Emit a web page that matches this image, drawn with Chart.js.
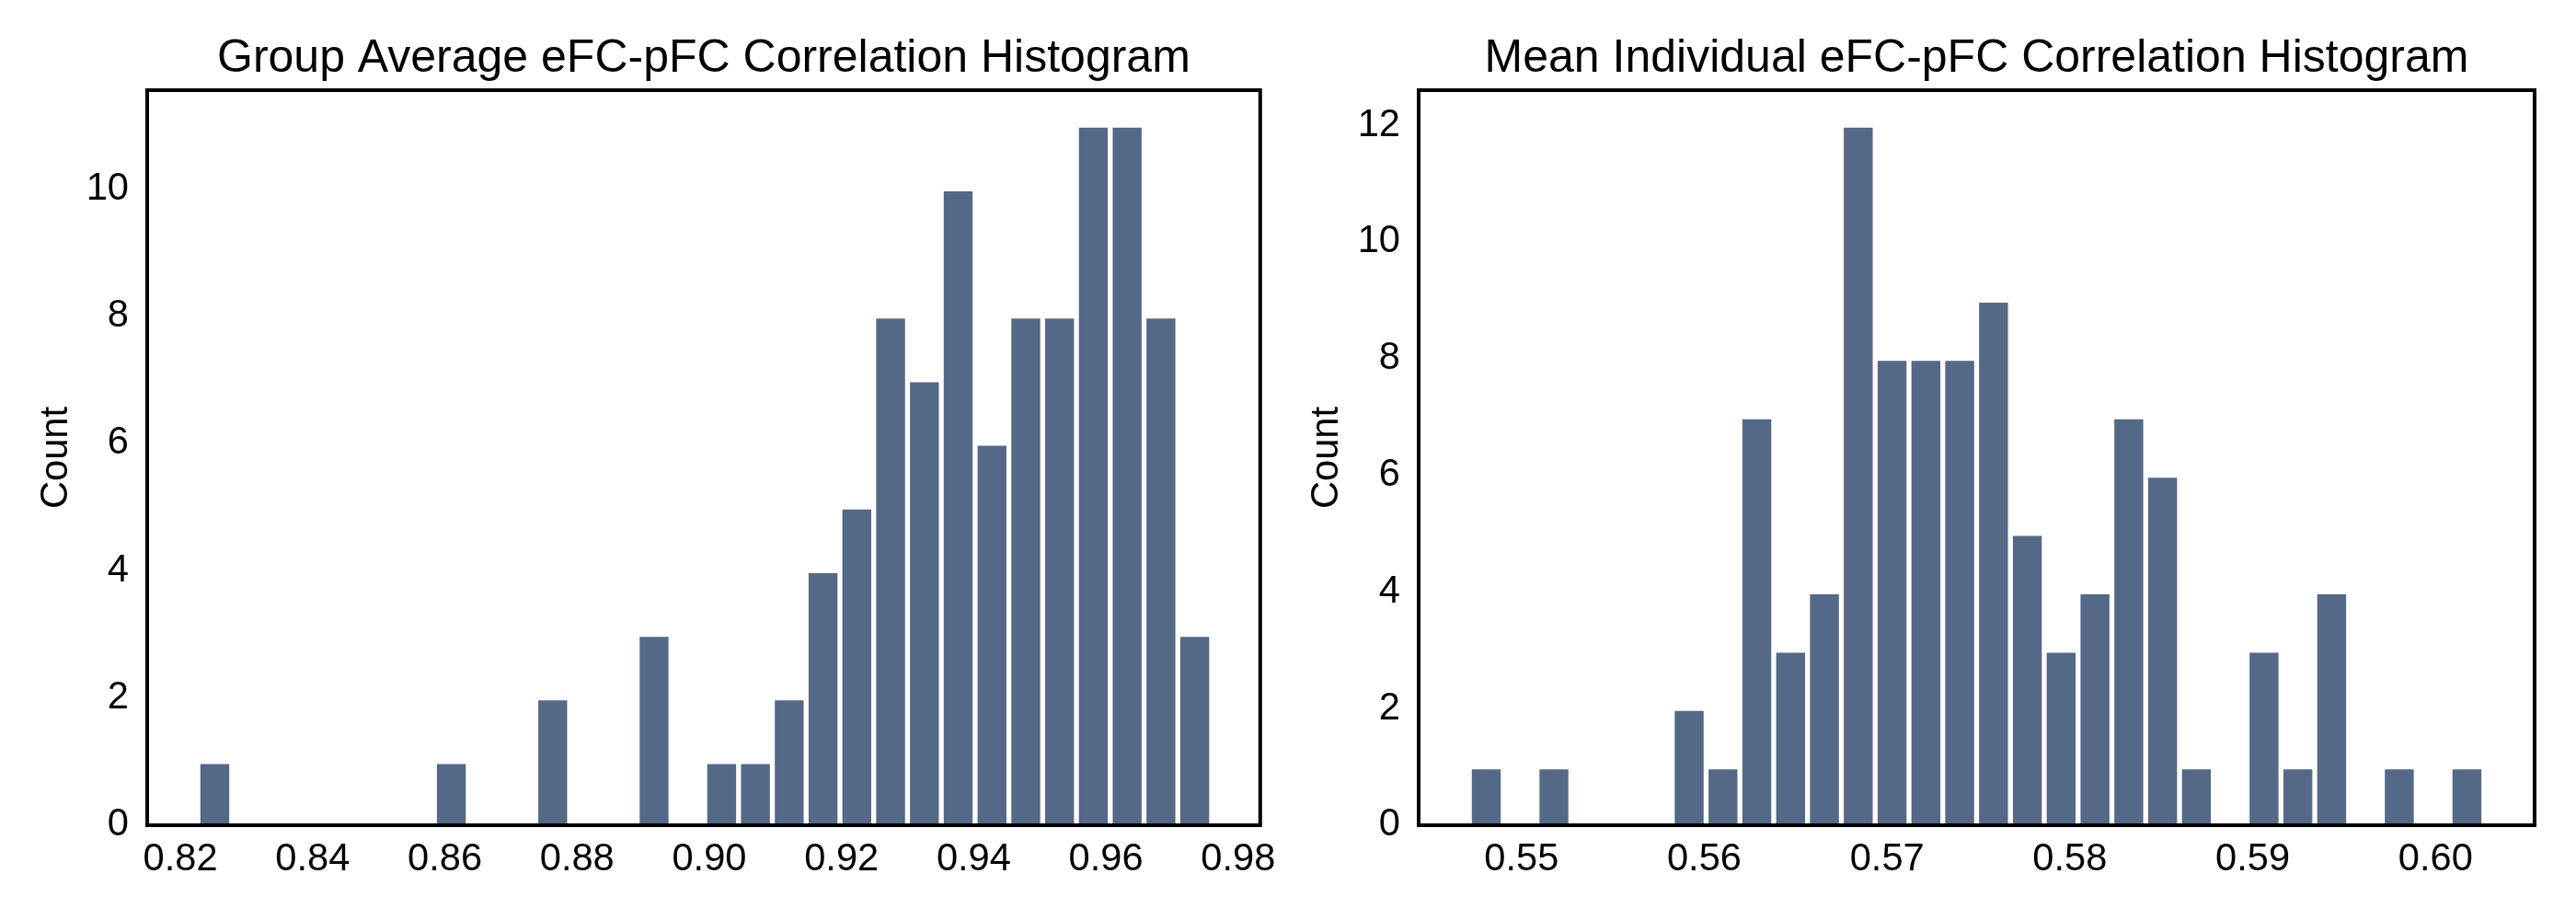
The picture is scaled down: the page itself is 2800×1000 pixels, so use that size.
<!DOCTYPE html>
<html><head><meta charset="utf-8">
<script src="https://cdn.jsdelivr.net/npm/chart.js@4.4.1/dist/chart.umd.min.js"></script>
<style>
html,body{margin:0;padding:0;background:#fff;overflow:hidden;width:2800px;height:1000px;}
canvas{position:absolute;top:0;}
#c1{left:0;} #c2{left:1400px;}
</style></head><body>
<canvas id="c1" width="1400" height="1000"></canvas>
<canvas id="c2" width="1400" height="1000"></canvas>
<script>
// ---- Data: Group Average histogram ----
const groupTitle = 'Group Average eFC-pFC Correlation Histogram';
const groupBinStart = 0.82265;
const groupBinWidth = 0.005111;
const groupCounts = [1,0,0,0,0,0,0,1,0,0,2,0,0,3,0,1,1,2,4,5,8,7,10,6,8,8,11,11,8,3];
const groupXTicks = [0.82,0.84,0.86,0.88,0.90,0.92,0.94,0.96,0.98];
const groupXTickLabels = ['0.82','0.84','0.86','0.88','0.90','0.92','0.94','0.96','0.98'];
const groupYTicks = [0,2,4,6,8,10];
const groupYTickLabels = ['0','2','4','6','8','10'];
const groupXRange = [0.81498, 0.98333];
const groupYMax = 11.55;

// ---- Data: Mean Individual histogram ----
const indivTitle = 'Mean Individual eFC-pFC Correlation Histogram';
const indivBinStart = 0.54715;
const indivBinWidth = 0.0018498;
const indivCounts = [1,0,1,0,0,0,2,1,7,3,4,12,8,8,8,9,5,3,4,7,6,1,0,3,1,4,0,1,0,1];
const indivXTicks = [0.55,0.56,0.57,0.58,0.59,0.60];
const indivXTickLabels = ['0.55','0.56','0.57','0.58','0.59','0.60'];
const indivYTicks = [0,2,4,6,8,10,12];
const indivYTickLabels = ['0','2','4','6','8','10','12'];
const indivXRange = [0.544375, 0.60542];
const indivYMax = 12.6;

const yAxisLabel = 'Count';

// ---- Styling ----
const FONT = "'Liberation Sans', Arial, Helvetica, sans-serif";
const BAR_COLOR = '#546888';
Chart.defaults.color = '#000';
Chart.defaults.font.family = FONT;

const boxPlugin = {
  id: 'axesBox',
  afterDatasetsDraw(chart) {
    const {ctx, chartArea: a} = chart;
    ctx.save();
    ctx.strokeStyle = '#000';
    ctx.lineWidth = 4;
    ctx.strokeRect(a.left, a.top, a.right - a.left, a.bottom - a.top);
    ctx.restore();
  }
};

function makeChart(id, title, binStart, binWidth, counts, xTicks, xLabels, yTicks, yLabels, xRange, yMax, lay) {
  const points = counts.map((c, i) => ({x: binStart + (i + 0.5) * binWidth, y: c}));
  return new Chart(document.getElementById(id), {
    type: 'bar',
    data: {
      datasets: [{
        data: points,
        backgroundColor: BAR_COLOR,
        borderColor: '#ffffff',
        borderWidth: {top: 3, left: 3, right: 3, bottom: 0},
        borderSkipped: 'start',
        barPercentage: 1,
        categoryPercentage: 1
      }]
    },
    options: {
      responsive: false,
      animation: false,
      devicePixelRatio: 1,
      layout: {padding: {left: 0, right: lay.rightPad, top: 0, bottom: 0}},
      plugins: {
        legend: {display: false},
        tooltip: {enabled: false},
        title: {
          display: true,
          text: title,
          fullSize: false,
          color: '#000',
          font: {family: FONT, size: 50, weight: 'normal', lineHeight: 1.2},
          padding: {top: 34, bottom: 4}
        }
      },
      scales: {
        x: {
          type: 'linear',
          offset: false,
          min: xRange[0],
          max: xRange[1],
          afterBuildTicks: s => { s.ticks = xTicks.map(v => ({value: v})); },
          afterFit: s => { s.height = 103; },
          grid: {display: false, drawTicks: false, offset: false},
          border: {display: false},
          ticks: {
            autoSkip: false, maxRotation: 0, minRotation: 0,
            padding: 13, color: '#000',
            font: {family: FONT, size: 41.67, lineHeight: 1.2},
            callback: (v, i) => xLabels[i]
          }
        },
        y: {
          min: 0,
          max: yMax,
          afterBuildTicks: s => { s.ticks = yTicks.map(v => ({value: v})); },
          afterFit: s => { s.width = lay.yWidth; },
          grid: {display: false, drawTicks: false},
          border: {display: false},
          ticks: {
            padding: 20, color: '#000',
            font: {family: FONT, size: 41.67, lineHeight: 1.2},
            callback: (v, i) => yLabels[i]
          },
          title: {
            display: true, text: yAxisLabel, color: '#000',
            font: {family: FONT, size: 41.67, lineHeight: 1.2},
            padding: {top: lay.labelPad, bottom: 0}
          }
        }
      }
    },
    plugins: [boxPlugin]
  });
}

makeChart('c1', groupTitle, groupBinStart, groupBinWidth, groupCounts,
  groupXTicks, groupXTickLabels, groupYTicks, groupYTickLabels, groupXRange, groupYMax,
  {yWidth: 160, rightPad: 28, labelPad: 37});
makeChart('c2', indivTitle, indivBinStart, indivBinWidth, indivCounts,
  indivXTicks, indivXTickLabels, indivYTicks, indivYTickLabels, indivXRange, indivYMax,
  {yWidth: 142, rightPad: 45, labelPad: 18});
</script>
</body></html>
